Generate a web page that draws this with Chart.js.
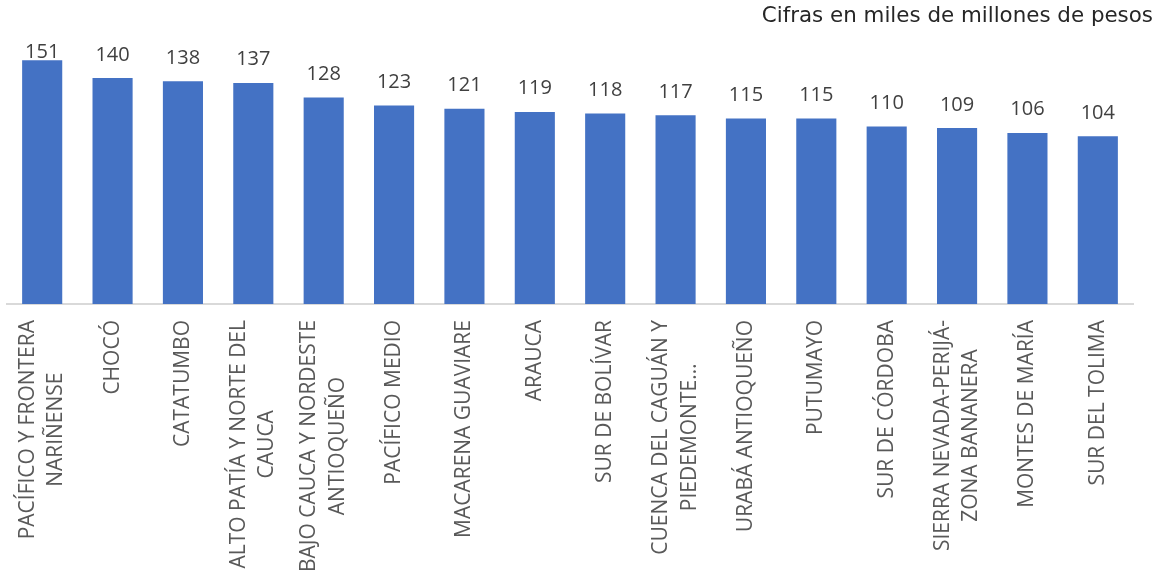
<!DOCTYPE html>
<html>
<head>
<meta charset="utf-8">
<script src="https://cdn.jsdelivr.net/npm/chart.js@4.4.0/dist/chart.umd.min.js"></script>
<style>
    body { margin: 0; background: #ffffff; }
    canvas { display: block; }
</style>
</head>
<body>
<canvas id="grafico" width="1162" height="571"></canvas>
<script>
// Datos del gráfico
const regiones = [
    ['PACÍFICO Y FRONTERA', 'NARIÑENSE'],
    ['CHOCÓ'],
    ['CATATUMBO'],
    ['ALTO PATÍA Y NORTE DEL', 'CAUCA'],
    ['BAJO CAUCA Y NORDESTE', 'ANTIOQUEÑO'],
    ['PACÍFICO MEDIO'],
    ['MACARENA GUAVIARE'],
    ['ARAUCA'],
    ['SUR DE BOLÍVAR'],
    ['CUENCA DEL CAGUÁN Y', 'PIEDEMONTE…'],
    ['URABÁ ANTIOQUEÑO'],
    ['PUTUMAYO'],
    ['SUR DE CÓRDOBA'],
    ['SIERRA NEVADA-PERIJÁ-', 'ZONA BANANERA'],
    ['MONTES DE MARÍA'],
    ['SUR DEL TOLIMA']
];
const montos = [151, 140, 138, 137, 128, 123, 121, 119, 118, 117, 115, 115, 110, 109, 106, 104];
const titulo = 'Cifras en miles de millones de pesos';

const fuenteEtiquetas = '"Open Sans", "Noto Sans", sans-serif';

// Etiquetas de categoría rotadas, con líneas centradas entre sí
const etiquetasEje = {
    id: 'etiquetasEje',
    afterDraw(chart) {
        const ctx = chart.ctx;
        const xScale = chart.scales.x;
        const base = chart.chartArea.bottom + 16;
        const interlineado = 28.4;
        ctx.save();
        ctx.font = '21px ' + fuenteEtiquetas;
        ctx.fillStyle = '#595959';
        ctx.textAlign = 'center';
        ctx.textBaseline = 'middle';
        regiones.forEach((lineas, i) => {
            const x = xScale.getPixelForTick(i);
            const ancho = Math.max(...lineas.map(l => ctx.measureText(l).width));
            ctx.save();
            ctx.translate(x, base + ancho / 2);
            ctx.rotate(-Math.PI / 2);
            lineas.forEach((l, j) => {
                ctx.fillText(l, 0, (j - (lineas.length - 1) / 2) * interlineado);
            });
            ctx.restore();
        });
        ctx.restore();
    }
};

// Valores encima de cada barra
const valoresBarras = {
    id: 'valoresBarras',
    afterDatasetsDraw(chart) {
        const ctx = chart.ctx;
        const meta = chart.getDatasetMeta(0);
        const tope = chart.chartArea.top + 28;
        ctx.save();
        ctx.font = '20px ' + fuenteEtiquetas;
        ctx.fillStyle = '#404040';
        ctx.textAlign = 'center';
        ctx.textBaseline = 'alphabetic';
        meta.data.forEach((barra, i) => {
            ctx.fillText(String(montos[i]), barra.x, Math.max(barra.y - 17.5, tope));
        });
        ctx.restore();
    }
};

new Chart(document.getElementById('grafico'), {
    type: 'bar',
    data: {
        labels: regiones,
        datasets: [{
            data: montos,
            backgroundColor: '#4472C4',
            borderWidth: 0,
            categoryPercentage: 1,
            barPercentage: 0.57
        }]
    },
    options: {
        responsive: false,
        animation: false,
        devicePixelRatio: 1,
        layout: {
            padding: { left: 7, right: 9, top: 0, bottom: 0 }
        },
        plugins: {
            legend: { display: false },
            tooltip: { enabled: false },
            title: {
                display: true,
                text: titulo,
                align: 'end',
                color: '#262626',
                font: { family: '"DejaVu Sans", Verdana, sans-serif', size: 21.4, weight: 'normal' },
                padding: { top: 4, bottom: 0 }
            }
        },
        scales: {
            x: {
                grid: { display: false },
                border: { display: true, color: '#d9d9d9', width: 2 },
                ticks: { display: false },
                afterFit: (s) => { s.height = 267; }
            },
            y: {
                position: 'right',
                min: 0,
                max: 170,
                grid: { display: false },
                border: { display: false },
                ticks: { display: false },
                afterFit: (s) => { s.width = 20; }
            }
        }
    },
    plugins: [valoresBarras, etiquetasEje]
});
</script>
</body>
</html>
